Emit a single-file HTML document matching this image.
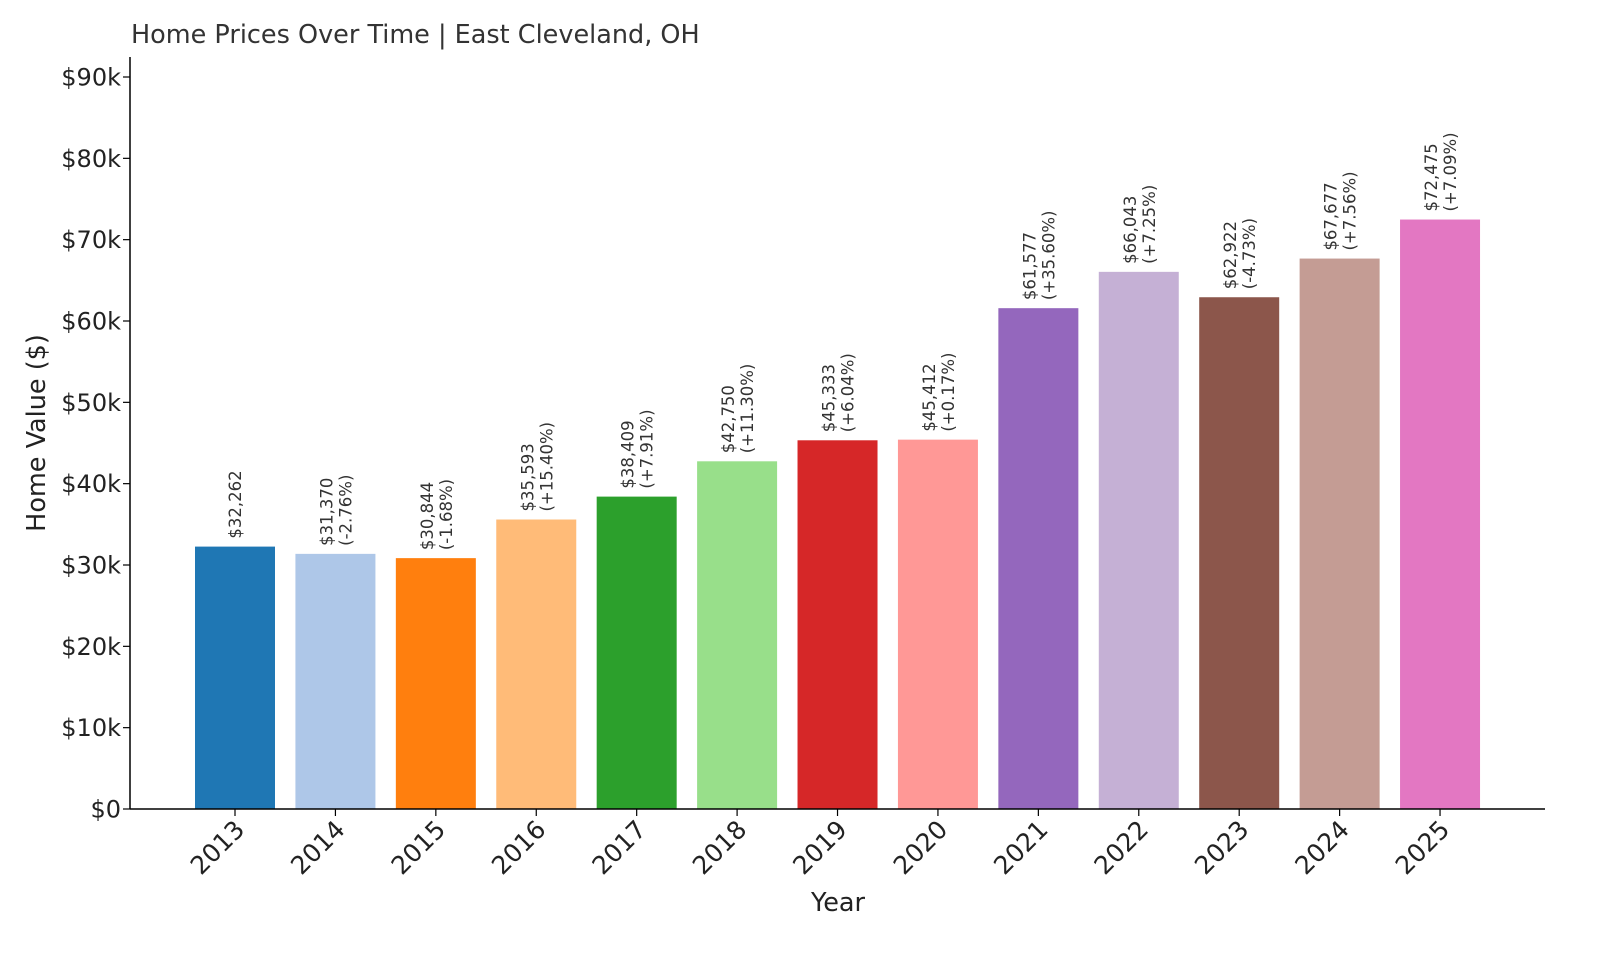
<!DOCTYPE html>
<html><head><meta charset="utf-8"><style>
html,body{margin:0;padding:0;background:#fff;}
svg{display:block;font-family:"DejaVu Sans","Liberation Sans",sans-serif;}
</style></head><body>
<svg id="chart" width="1600" height="960" viewBox="0 0 1600 960" xmlns="http://www.w3.org/2000/svg">
<text x="131" y="43" font-size="25.5" fill="#333">Home Prices Over Time | East Cleveland, OH</text>
<text transform="translate(45,433) rotate(-90)" text-anchor="middle" font-size="25.5" fill="#222">Home Value ($)</text>
<text x="838" y="911" text-anchor="middle" font-size="25.5" fill="#222">Year</text>
<g id="bars"></g><g id="axes"></g>
</svg>
<script>
const years=["2013","2014","2015","2016","2017","2018","2019","2020","2021","2022","2023","2024","2025"];
const values=[32262,31370,30844,35593,38409,42750,45333,45412,61577,66043,62922,67677,72475];
const changes=["","(-2.76%)","(-1.68%)","(+15.40%)","(+7.91%)","(+11.30%)","(+6.04%)","(+0.17%)","(+35.60%)","(+7.25%)","(-4.73%)","(+7.56%)","(+7.09%)"];
const yTicks=[0,10000,20000,30000,40000,50000,60000,70000,80000,90000];
const yTickLabels=["$0","$10k","$20k","$30k","$40k","$50k","$60k","$70k","$80k","$90k"];
const colors=["#1f77b4","#aec7e8","#ff7f0e","#ffbb78","#2ca02c","#98df8a","#d62728","#ff9896","#9467bd","#c5b0d5","#8c564b","#c49c94","#e377c2"];
const NS="http://www.w3.org/2000/svg";
const y=v=>809-v*(732/90000);
const x=i=>235+i*100.42;
const bw=80;
function mk(t,a,p){const e=document.createElementNS(NS,t);for(const k in a)e.setAttribute(k,a[k]);p.appendChild(e);return e;}
const bars=document.getElementById('bars'),axes=document.getElementById('axes');
values.forEach((v,i)=>{
  const r=mk('rect',{x:x(i)-bw/2,y:y(v),width:bw,height:809-y(v),fill:colors[i]},bars);
  
  
  const top=y(v)-8;
  const l1=mk('text',{transform:`translate(${changes[i]?x(i)-3:x(i)+6},${top}) rotate(-90)`,'font-size':'16.5',fill:'#333'},bars);
  l1.textContent='$'+v.toLocaleString('en-US');
  
  
  if(changes[i]){
    const l2=mk('text',{transform:`translate(${x(i)+16},${top}) rotate(-90)`,'font-size':'16.5',fill:'#333'},bars);
    l2.textContent=changes[i];
    
    
  }
  mk('line',{x1:x(i),x2:x(i),y1:809,y2:816,stroke:'#000','stroke-width':1.2},axes);
  const t=mk('text',{transform:`translate(${x(i)+11},${831}) rotate(-45)`,'text-anchor':'end','font-size':'25',fill:'#222'},axes);
  t.textContent=years[i];
  
  
});
yTicks.forEach((v,i)=>{
  mk('line',{x1:123,x2:130,y1:y(v),y2:y(v),stroke:'#000','stroke-width':1.2},axes);
  const t=mk('text',{x:121,y:y(v)+8.5,'text-anchor':'end','font-size':'24',fill:'#222'},axes);
  t.textContent=yTickLabels[i];
  
  
});
const ys=mk('line',{x1:130,x2:130,y1:57,y2:809.5,stroke:'#000','stroke-width':1.5},axes);


const xs=mk('line',{x1:130,x2:1545,y1:809,y2:809,stroke:'#000','stroke-width':1.5},axes);


</script>
</body></html>
